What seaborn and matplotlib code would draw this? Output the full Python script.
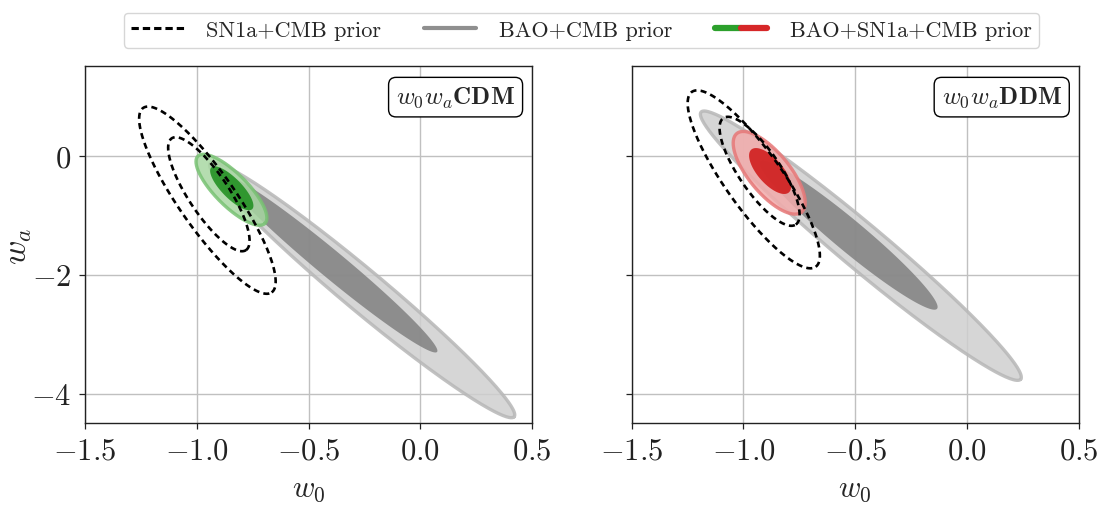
import numpy as np
import matplotlib
matplotlib.use("Agg")
import matplotlib.pyplot as plt
import seaborn as sns
from matplotlib.lines import Line2D
from matplotlib.legend_handler import HandlerTuple
from matplotlib.colors import to_rgb

# ---------------- data ----------------
panels = ["cdm", "ddm"]
panel_labels = [r"$w_0w_a\mathbf{CDM}$", r"$w_0w_a\mathbf{DDM}$"]
x_ticks = [-1.5, -1.0, -0.5, 0.0, 0.5]
y_ticks = [-4, -2, 0]
x_lim = (-1.5, 0.5)
y_lim = (-4.5, 1.5)

# each contour = ellipse given by the two ends of its long axis (w0, wa) and minor/major ratio
# BAO+CMB prior
bao_2s_tip1 = {"cdm": (-0.94, -0.13), "ddm": (-1.19, 0.73)}
bao_2s_tip2 = {"cdm": (0.42, -4.39), "ddm": (0.24, -3.76)}
bao_2s_ratio = {"cdm": 0.104, "ddm": 0.107}
bao_1s_tip1 = {"cdm": (-0.873, -0.35), "ddm": (-0.925, -0.10)}
bao_1s_tip2 = {"cdm": (0.075, -3.30), "ddm": (-0.134, -2.575)}
bao_1s_ratio = {"cdm": 0.097, "ddm": 0.134}
# BAO+SN1a+CMB prior
all_2s_tip1 = {"cdm": (-0.995, -0.01), "ddm": (-1.03, 0.37)}
all_2s_tip2 = {"cdm": (-0.695, -1.14), "ddm": (-0.74, -0.95)}
all_2s_ratio = {"cdm": 0.34, "ddm": 0.40}
all_1s_tip1 = {"cdm": (-0.935, -0.20), "ddm": (-0.965, 0.10)}
all_1s_tip2 = {"cdm": (-0.752, -0.90), "ddm": (-0.797, -0.62)}
all_1s_ratio = {"cdm": 0.34, "ddm": 0.44}
# SN1a+CMB prior (dashed)
sn_2s_tip1 = {"cdm": (-1.24, 0.80), "ddm": (-1.231, 1.07)}
sn_2s_tip2 = {"cdm": (-0.665, -2.30), "ddm": (-0.677, -1.87)}
sn_2s_ratio = {"cdm": 0.25, "ddm": 0.265}
sn_1s_tip1 = {"cdm": (-1.112, 0.29), "ddm": (-1.09, 0.63)}
sn_1s_tip2 = {"cdm": (-0.78, -1.59), "ddm": (-0.766, -1.16)}
sn_1s_ratio = {"cdm": 0.30, "ddm": 0.32}

legend_labels = ["SN1a+CMB prior", "BAO+CMB prior", "BAO+SN1a+CMB prior"]

# ---------------- style ----------------
sns.set_theme(style="ticks")
plt.rcParams.update({
    "font.family": "serif",
    "font.serif": ["cmr10"],
    "mathtext.fontset": "cm",
    "axes.formatter.use_mathtext": True,
    "axes.unicode_minus": True,
    "axes.edgecolor": "#222222",
    "axes.linewidth": 1.0,
    "xtick.color": "#222222",
    "ytick.color": "#222222",
    "xtick.direction": "out",
    "ytick.direction": "out",
})

ALPHA = 0.85


def solid(target, a=ALPHA):
    t = np.array(to_rgb(target))
    return tuple(np.clip((t - (1 - a)) / a, 0, 1))


colors = {
    "gray": dict(light="#d6d6d6", edge="#c2c2c2", dark="#939393"),
    "green": dict(light="#b5ddb0", edge="#8ccb88", dark="#3e9f3e"),
    "red": dict(light="#f4b8b8", edge="#eb8c8c", dark="#d63838"),
}
panel_color = {"cdm": "green", "ddm": "red"}


def ellipse_xy(ax, tip1, tip2, ratio, n=300):
    T = ax.transData
    p1 = T.transform(tip1)
    p2 = T.transform(tip2)
    c = (p1 + p2) / 2
    u = (p2 - p1) / 2
    v = ratio * np.array([-u[1], u[0]])
    th = np.linspace(0, 2 * np.pi, n)
    pts = c + np.outer(np.cos(th), u) + np.outer(np.sin(th), v)
    d = T.inverted().transform(pts)
    return d[:, 0], d[:, 1]


def filled_pair(ax, key, c2, c1, cname, z):
    col = colors[cname]
    t1, t2, r = c2
    x, y = ellipse_xy(ax, t1[key], t2[key], r[key])
    ax.fill(x, y, color=solid(col["light"]), alpha=ALPHA, lw=0, zorder=z)
    ax.plot(x, y, color=solid(col["edge"]), alpha=ALPHA, lw=2.4, zorder=z + 0.1)
    t1, t2, r = c1
    x, y = ellipse_xy(ax, t1[key], t2[key], r[key])
    ax.fill(x, y, color=solid(col["dark"]), alpha=ALPHA, lw=0, zorder=z + 0.2)


fig = plt.figure(figsize=(11, 5.06), dpi=100)
ax1 = fig.add_axes([0.0773, 0.1615, 0.4064, 0.7055])
ax2 = fig.add_axes([0.5743, 0.1615, 0.4064, 0.7055])
axes = [ax1, ax2]

for ax, key, lab in zip(axes, panels, panel_labels):
    ax.set_xlim(*x_lim)
    ax.set_ylim(*y_lim)
    ax.set_xticks(x_ticks)
    ax.set_yticks(y_ticks)
    ax.set_axisbelow(True)
    ax.grid(True, color="#c0c0c0", lw=1.0)
    ax.tick_params(labelsize=22, length=4, width=0.9, pad=6)

    filled_pair(ax, key, (bao_2s_tip1, bao_2s_tip2, bao_2s_ratio),
                (bao_1s_tip1, bao_1s_tip2, bao_1s_ratio), "gray", 2)
    filled_pair(ax, key, (all_2s_tip1, all_2s_tip2, all_2s_ratio),
                (all_1s_tip1, all_1s_tip2, all_1s_ratio), panel_color[key], 3)

    for t1, t2, r in [(sn_2s_tip1, sn_2s_tip2, sn_2s_ratio),
                      (sn_1s_tip1, sn_1s_tip2, sn_1s_ratio)]:
        x, y = ellipse_xy(ax, t1[key], t2[key], r[key])
        sns.lineplot(x=x, y=y, sort=False, estimator=None, ax=ax, color="black",
                     lw=1.9, linestyle=(0, (2.3, 1.6)), zorder=5)

    ax.text(0.962, 0.948, lab, transform=ax.transAxes, ha="right", va="top",
            fontsize=18, zorder=6,
            bbox=dict(boxstyle="round,pad=0.3", fc="white", ec="black", lw=1.0))
    ax.set_xlabel(r"$w_0$", fontsize=22, labelpad=8)
    ax.set_xlim(*x_lim)
    ax.set_ylim(*y_lim)

ax1.set_ylabel(r"$w_a$", fontsize=24, labelpad=-2)
ax2.tick_params(labelleft=False)
ax2.set_ylabel("")

handles = [
    Line2D([], [], color="black", lw=2.2, linestyle=(0, (2.4, 1.3))),
    Line2D([], [], color="#8f8f8f", lw=3.0),
    (Line2D([], [], color="#2ca02c", lw=4.5), Line2D([], [], color="#d62728", lw=4.5)),
]
fig.legend(handles, legend_labels, loc="upper center", bbox_to_anchor=(0.5286, 0.995),
           ncol=3, fontsize=16, frameon=True, fancybox=True, edgecolor="#cccccc",
           handlelength=2.35, handletextpad=1.0, columnspacing=1.95,
           borderpad=0.35,
           handler_map={tuple: HandlerTuple(ndivide=None, pad=0)})

fig.savefig("out.png", dpi=100)
